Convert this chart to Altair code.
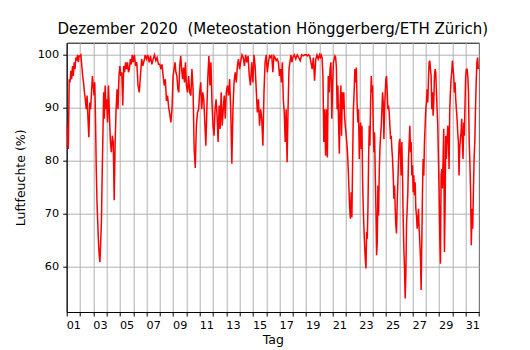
import altair as alt
import pandas as pd

# Relative humidity (%) per day, readings evenly spread over each day
dec01 = [86.9, 84.1, 82.2, 95.4, 94.8, 97.0, 95.4, 97.9, 96.0, 98.6, 97.3, 99.5, 98.9, 100.0, 98.6, 99.8]
dec02 = [99.8, 100.0, 97.9, 96.0, 94.8, 92.9, 91.6, 89.7, 92.3, 87.9, 84.4, 91.0, 89.7, 92.9, 96.0]
dec03 = [94.2, 92.3, 94.8, 87.9, 78.4, 72.1, 68.4, 64.6, 62.1, 60.8, 64.6, 68.4, 77.2, 84.7, 92.9, 87.9, 94.2, 89.7]
dec04 = [91.6, 87.2, 94.2, 88.5, 83.5, 81.6, 84.7, 83.5, 72.5, 83.5, 89.7, 93.5, 89.7, 96.0]
dec05 = [97.9, 96.0, 96.7, 90.4, 97.9, 96.7, 98.6, 97.3, 98.6, 96.7, 97.3, 99.2, 98.2, 100.0]
dec06 = [98.6, 100.0, 97.9, 98.6, 94.2, 92.9, 96.0, 99.2, 97.9, 98.9, 100.0]
dec07 = [99.2, 100.0, 98.6, 99.8, 98.2, 99.2, 100.0, 98.9, 99.5, 98.2]
dec08 = [98.2, 97.3, 98.2, 96.0, 94.2, 95.4, 91.3, 92.3, 90.1, 88.8, 87.2, 89.7]
dec09 = [96.0, 97.3, 98.6, 96.7, 96.0, 93.5, 92.9, 97.9, 99.8, 97.3, 95.4, 97.6, 94.8, 98.6]
dec10 = [94.2, 92.9, 96.0, 92.9, 92.3, 97.3, 93.5, 82.2, 78.6, 86.6, 89.1, 89.7]
dec11 = [92.9, 94.8, 89.7, 92.9, 91.6, 87.2, 82.8, 89.7, 96.0, 99.8, 94.2, 98.6, 91.0]
dec12 = [86.6, 84.7, 89.7, 91.6, 88.5, 83.5, 90.4, 86.0, 92.9, 86.6, 89.7, 92.3, 87.9]
dec13 = [92.9, 94.2, 92.3, 95.4, 89.7, 79.4, 89.7, 94.8, 96.7, 94.8, 97.9, 99.2]
dec14 = [97.3, 98.9, 100.0, 99.5, 97.9, 100.0, 98.6, 99.8, 96.0, 94.2, 98.6]
dec15 = [94.8, 100.0, 97.9, 93.5, 89.1, 91.6, 86.6, 89.7, 87.9, 82.8, 92.9, 98.6]
dec16 = [100.0, 96.7, 98.6, 99.8, 99.5, 100.0, 96.7, 99.8, 99.5, 98.9, 99.2, 98.6]
dec17 = [96.0, 97.3, 94.8, 98.6, 91.6, 89.1, 83.5, 89.7, 79.7, 89.7, 97.3, 98.6, 100.0, 98.6]
dec18 = [99.5, 100.0, 99.2, 100.0, 99.5, 98.9, 100.0, 99.8, 100.0]
dec19 = [100.0, 99.8, 100.0, 99.8, 98.6, 97.3, 99.5, 95.1, 99.2, 100.0, 99.2]
dec20 = [100.0, 99.5, 100.0, 99.5, 96.0, 83.5, 89.7, 80.9, 89.7, 80.6, 96.0, 92.9, 97.3, 98.6, 87.9]
dec21 = [94.8, 98.6, 99.2, 99.8, 99.5, 97.6, 89.7, 94.2, 86.6, 81.3, 90.4, 94.2, 84.7, 92.9, 89.7, 92.9, 88.5, 86.6]
dec22 = [85.3, 83.5, 81.6, 78.4, 74.7, 70.9, 69.0, 74.0, 69.3, 80.3, 89.7, 92.9, 97.3, 94.8, 97.6, 91.0, 87.2, 89.7]
dec23 = [80.3, 85.3, 87.2, 82.2, 86.6, 75.9, 70.9, 67.1, 64.0, 61.4, 59.6, 66.5, 65.2, 70.9, 80.3, 86.6, 82.8, 91.0, 96.0, 92.9]
dec24 = [94.2, 86.6, 81.6, 85.3, 77.2, 70.9, 62.1, 64.6, 75.3, 69.6, 77.8, 82.2, 84.7, 86.6, 89.7, 92.9, 91.0, 84.1, 89.7, 92.9]
dec25 = [95.4, 96.0, 92.9, 89.7, 90.4, 89.1, 86.6, 84.1, 84.7, 82.2, 80.3, 77.2, 72.8, 75.3, 70.9, 67.7, 66.2, 72.1, 75.9, 80.3]
dec26 = [83.5, 84.1, 80.3, 77.2, 83.5, 77.2, 69.0, 63.3, 59.6, 53.9, 58.3, 67.7, 70.9, 74.0, 80.3, 83.5, 86.6, 81.6, 83.5, 77.2]
dec27 = [79.1, 74.0, 77.2, 73.4, 75.9, 70.9, 69.6, 67.1, 68.4, 70.9, 67.1, 64.6, 61.4, 55.5, 64.6, 74.0, 80.3, 77.2, 83.5, 86.6]
dec28 = [89.7, 91.0, 93.5, 91.0, 95.4, 98.6, 98.9, 97.3, 96.0, 89.7, 92.9, 88.5, 91.0, 96.0, 97.3, 96.7, 92.9, 89.7, 86.6, 80.3]
dec29 = [74.0, 65.8, 60.5, 77.2, 78.4, 74.7, 80.3, 86.0, 62.7, 70.9, 84.7, 80.3, 83.5, 86.6, 85.3, 78.4, 89.7, 92.9, 95.4, 96.7]
dec30 = [98.9, 97.3, 96.0, 92.9, 94.8, 91.6, 89.7, 87.9, 85.3, 83.5, 77.2, 82.2, 84.1, 85.3, 87.9, 83.5, 80.3, 87.2, 84.7, 91.0]
dec31 = [96.0, 97.3, 97.3, 96.0, 92.9, 83.5, 79.7, 74.0, 64.0, 70.9, 67.1, 74.0, 80.3, 83.5, 89.7, 94.8, 98.6, 99.5, 97.3]

daily = [dec01, dec02, dec03, dec04, dec05, dec06, dec07, dec08, dec09, dec10,
         dec11, dec12, dec13, dec14, dec15, dec16, dec17, dec18, dec19, dec20,
         dec21, dec22, dec23, dec24, dec25, dec26, dec27, dec28, dec29, dec30, dec31]

day_ticks = list(range(1, 33))
rh_ticks = [60, 70, 80, 90, 100]

rows = []
for d, vals in enumerate(daily, start=1):
    n = len(vals)
    for i, v in enumerate(vals):
        rows.append({"tag": d + i / n, "rh": v})
df = pd.DataFrame(rows)

FONT = "DejaVu Sans"

x = alt.X(
    "tag:Q",
    scale=alt.Scale(domain=[1, 32], nice=False, zero=False),
    axis=alt.Axis(
        title="Tag",
        values=day_ticks,
        labelExpr="(datum.value % 2 == 1 && datum.value < 32) ? (datum.value < 10 ? '0' + datum.value : '' + datum.value) : ''",
        labelOffset=6.65,
        labelOverlap=False,
        labelBound=False,
        labelFlush=False,
        labelPadding=3,
        tickSize=4,
        titlePadding=3,
    ),
)
y = alt.Y(
    "rh:Q",
    scale=alt.Scale(domain=[51.35, 102.3], nice=False, zero=False),
    axis=alt.Axis(
        title="Luftfeuchte (%)",
        values=rh_ticks,
        tickSize=4,
        labelPadding=4,
        titlePadding=10,
    ),
)

chart = (
    alt.Chart(df)
    .mark_line(color="#ff0000", strokeWidth=1.5, clip=True)
    .encode(x=x, y=y, order="tag:Q")
    .properties(
        width=412.3,
        height=269.3,
        title=alt.TitleParams(
            text="Dezember 2020\u00a0 (Meteostation Hönggerberg/ETH Zürich)",
            font=FONT,
            fontSize=15,
            fontWeight="normal",
            color="black",
            anchor="middle",
            offset=6,
        ),
        autosize=alt.AutoSizeParams(type="none"),
        padding={"left": 58.7, "top": 34.7, "right": 20, "bottom": 37},
    )
    .configure(background="white")
    .configure_view(stroke="black", strokeWidth=1)
    .configure_axis(
        labelFont=FONT,
        titleFont=FONT,
        labelFontSize=11.25,
        titleFontSize=12.5,
        titleFontWeight="normal",
        labelColor="black",
        titleColor="black",
        domainColor="black",
        tickColor="black",
        gridColor="#b0b0b0",
        gridWidth=1,
        grid=True,
    )
)

chart.save("out.html", embed_options={"renderer": "svg", "actions": False})
